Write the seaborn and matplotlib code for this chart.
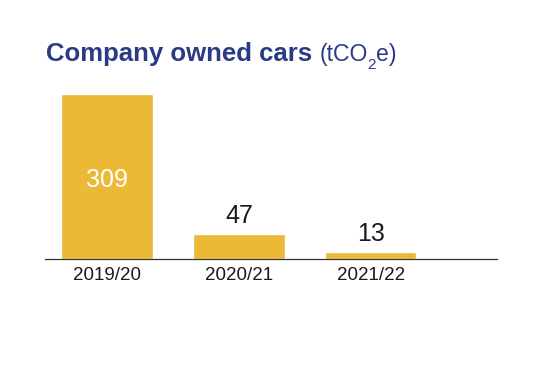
import matplotlib
matplotlib.use('Agg')
import matplotlib.pyplot as plt
import seaborn as sns
import pandas as pd

years = ['2019/20', '2020/21', '2021/22']
emissions = [309, 47, 13]

title_bold = 'Company owned cars'
title_unit = ['(tCO', '2', 'e)']

navy = '#2b3a84'
gold = '#ecb937'

sns.set_style('white')
plt.rcParams['font.family'] = ['Liberation Sans', 'DejaVu Sans']

df = pd.DataFrame({'year': years, 'value': emissions})

fig = plt.figure(figsize=(5.4, 3.76), dpi=100)
ax = fig.add_axes([45 / 540, 117 / 376, 452 / 540, 179 / 376])

sns.barplot(data=df, x='year', y='value', color=gold, saturation=1,
            width=0.69, ax=ax)

ax.set_xlim(-0.47, 2.955)
ax.set_ylim(0, 335)

# value labels: large bar gets white label inside, others above
for i, v in enumerate(emissions):
    if v > 100:
        ax.annotate(str(v), (i, v / 2), xytext=(0, -7.6), textcoords='offset points',
                    ha='center', va='baseline', color='white', fontsize=18)
    else:
        ax.annotate(str(v), (i, v), xytext=(0, 8), textcoords='offset points',
                    ha='center', va='baseline', color='#1a1a1a', fontsize=18)

ax.set(xlabel='', ylabel='', yticks=[])
for s in ['left', 'right', 'top']:
    ax.spines[s].set_visible(False)
ax.spines['bottom'].set_color('#333333')
ax.spines['bottom'].set_linewidth(0.9)
ax.tick_params(axis='x', length=0, pad=6, labelsize=13.5, labelcolor='#1a1a1a')

# title in pieces: bold part, then normal unit with subscript
fig.canvas.draw()
r = fig.canvas.get_renderer()
base = 1 - 61 / 376
t1 = fig.text(46 / 540, base, title_bold + ' ', fontsize=18.5,
              fontweight='bold', color=navy, ha='left', va='baseline')
x = t1.get_window_extent(r).x1
t2 = fig.text(x / 540, base, title_unit[0], fontsize=16.6,
              color=navy, ha='left', va='baseline')
x = t2.get_window_extent(r).x1
t3 = fig.text(x / 540, 1 - 69 / 376, title_unit[1], fontsize=11,
              color=navy, ha='left', va='baseline')
x = t3.get_window_extent(r).x1
fig.text(x / 540, base, title_unit[2], fontsize=16.6,
         color=navy, ha='left', va='baseline')

fig.savefig('out.png', dpi=100)
